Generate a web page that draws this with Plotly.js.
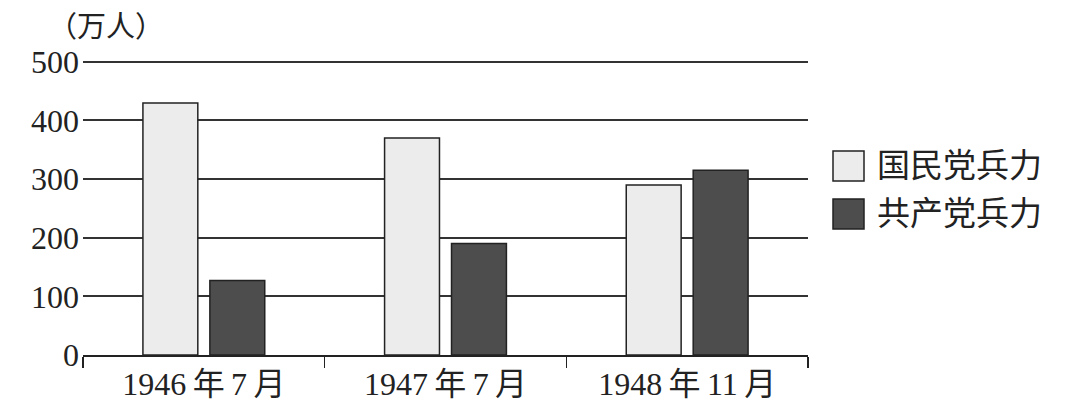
<!DOCTYPE html>
<html>
<head>
<meta charset="utf-8">
<script src="https://cdn.plot.ly/plotly-3.0.1.min.js"></script>
<style>html,body{margin:0;padding:0;background:#fff;}#chart{width:1089px;height:404px;}</style>
</head>
<body>
<div id="chart"></div>
<script>
var categories = ["1946年7月", "1947年7月", "1948年11月"];
var categoryLabels = ["1946\u2009年\u20097\u2009月", "1947\u2009年\u20097\u2009月", "1948\u2009年\u200911\u2009月"];
var seriesNames = ["国民党兵力", "共产党兵力"];
var kmtValues = [430, 370, 290];
var cpcValues = [127, 190, 315];
var yTickValues = [0, 100, 200, 300, 400, 500];
var unitLabel = "（万人）";

var FONT = "'Liberation Serif', 'Noto Sans CJK SC', serif";
var fills = ["#ececec", "#4d4d4d"];

var traces = [
  {type: "bar", name: seriesNames[0], x: categories, y: kmtValues,
   marker: {color: fills[0], line: {color: "#222", width: 1.5}}, showlegend: false},
  {type: "bar", name: seriesNames[1], x: categories, y: cpcValues,
   marker: {color: fills[1], line: {color: "#222", width: 1.5}}, showlegend: false}
];

var TOP = 56, BOT = 355, LEFT = 83, RIGHT = 808;
function px2x(p){ return (p - LEFT) / (RIGHT - LEFT); }
function px2y(p){ return (BOT - p) / (BOT - TOP); }

var legendRows = [166, 214];
var shapes = [];
var annotations = [];
legendRows.forEach(function(cy, i){
  shapes.push({type: "rect", xref: "paper", yref: "paper",
    x0: px2x(833), x1: px2x(864), y0: px2y(cy + 15), y1: px2y(cy - 15),
    fillcolor: fills[i], line: {color: "#222", width: 1.5}});
  annotations.push({xref: "paper", yref: "paper", x: px2x(875), y: px2y(cy),
    xanchor: "left", yanchor: "middle", showarrow: false, text: seriesNames[i],
    font: {family: FONT, size: 33, color: "#222"}});
});
annotations.push({xref: "paper", yref: "paper", x: px2x(106), y: px2y(27),
  xanchor: "center", yanchor: "middle", showarrow: false, text: unitLabel,
  font: {family: FONT, size: 29, color: "#222"}});

var layout = {
  width: 1089, height: 404,
  margin: {l: LEFT, r: 1089 - RIGHT, t: TOP, b: 404 - BOT},
  paper_bgcolor: "#fff", plot_bgcolor: "#fff",
  barmode: "group", bargap: 0.446, bargroupgap: 0.18,
  font: {family: FONT, color: "#222"},
  xaxis: {
    type: "category", showgrid: false, showline: true, linecolor: "#222", linewidth: 2,
    ticks: "outside", tickson: "boundaries", ticklen: 11, tickwidth: 1.5, tickcolor: "#222",
    tickmode: "array", tickvals: categories, ticktext: categoryLabels,
    tickfont: {family: FONT, size: 32, color: "#222"}, fixedrange: true
  },
  yaxis: {
    range: [0, 510], tickvals: yTickValues, showgrid: true, gridcolor: "#333", gridwidth: 2,
    zeroline: false, showline: false, ticks: "", ticklabelstandoff: 3,
    tickfont: {family: FONT, size: 32, color: "#222"}, fixedrange: true
  },
  shapes: shapes,
  annotations: annotations
};

Plotly.newPlot("chart", traces, layout, {displayModeBar: false, staticPlot: true});
</script>
</body>
</html>
